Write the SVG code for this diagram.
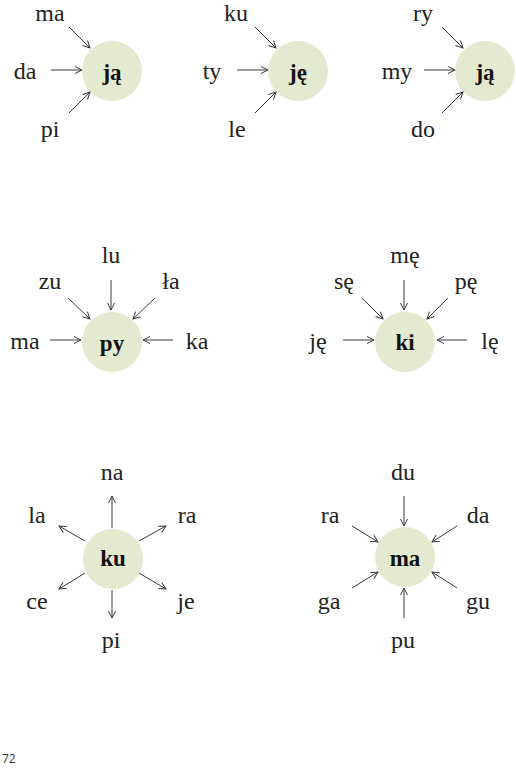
<svg xmlns="http://www.w3.org/2000/svg" width="516" height="768" viewBox="0 0 516 768">
<style>
.hub{fill:#e3eacf}
.c{font-family:"Liberation Serif",serif;font-size:23px;font-weight:bold;fill:#111;text-anchor:middle}
.l{font-family:"Liberation Serif",serif;font-size:24px;fill:#222;text-anchor:middle}
.e{stroke:#3a3a3a;stroke-width:1;fill:none;marker-end:url(#arr)}
.pg{font-family:"Open Sans","DejaVu Sans",sans-serif;font-size:12px;fill:#333}
</style>
<defs>
<marker id="arr" markerUnits="userSpaceOnUse" markerWidth="10" markerHeight="10" refX="7" refY="3.5" orient="auto" overflow="visible">
<path d="M0,0 L7,3.5 L0,7" fill="none" stroke="#3a3a3a" stroke-width="1"/>
</marker>
</defs>

<!-- Diagram 1 -->
<g id="hub1"><circle class="hub" cx="112" cy="71" r="30"/><text class="c" x="112" y="80">ją</text></g>
<g id="d1-ma"><text class="l" x="50" y="21">ma</text></g>
<g id="d1-da"><text class="l" x="25" y="79">da</text></g>
<g id="d1-pi"><text class="l" x="50" y="137">pi</text></g>

<!-- Diagram 2 -->
<g id="hub2"><circle class="hub" cx="298" cy="71" r="30"/><text class="c" x="298" y="80">ję</text></g>
<g id="d2-ku"><text class="l" x="236" y="21">ku</text></g>
<g id="d2-ty"><text class="l" x="212" y="79">ty</text></g>
<g id="d2-le"><text class="l" x="237" y="137">le</text></g>

<!-- Diagram 3 -->
<g id="hub3"><circle class="hub" cx="485" cy="71" r="30"/><text class="c" x="485" y="80">ją</text></g>
<g id="d3-ry"><text class="l" x="423" y="21">ry</text></g>
<g id="d3-my"><text class="l" x="397" y="79">my</text></g>
<g id="d3-do"><text class="l" x="423" y="137">do</text></g>

<!-- Diagram 4 -->
<g id="hub4"><circle class="hub" cx="112" cy="342" r="30"/><text class="c" x="112" y="351">py</text></g>
<g id="d4-lu"><text class="l" x="111" y="263">lu</text></g>
<g id="d4-zu"><text class="l" x="50" y="289">zu</text></g>
<g id="d4-la"><text class="l" x="171" y="289">ła</text></g>
<g id="d4-ma"><text class="l" x="25" y="349">ma</text></g>
<g id="d4-ka"><text class="l" x="197" y="349">ka</text></g>

<!-- Diagram 5 -->
<g id="hub5"><circle class="hub" cx="405" cy="342" r="30"/><text class="c" x="405" y="350">ki</text></g>
<g id="d5-me"><text class="l" x="405" y="263">mę</text></g>
<g id="d5-se"><text class="l" x="344" y="289">sę</text></g>
<g id="d5-pe"><text class="l" x="466" y="289">pę</text></g>
<g id="d5-je"><text class="l" x="318" y="349">ję</text></g>
<g id="d5-le"><text class="l" x="490" y="349">lę</text></g>

<!-- Diagram 6 -->
<g id="hub6"><circle class="hub" cx="113" cy="559" r="30"/><text class="c" x="113" y="566">ku</text></g>
<g id="d6-na"><text class="l" x="112" y="480">na</text></g>
<g id="d6-la"><text class="l" x="37" y="523">la</text></g>
<g id="d6-ra"><text class="l" x="187" y="523">ra</text></g>
<g id="d6-ce"><text class="l" x="37" y="609">ce</text></g>
<g id="d6-je"><text class="l" x="186" y="609">je</text></g>
<g id="d6-pi"><text class="l" x="111" y="648">pi</text></g>

<!-- Diagram 7 -->
<g id="hub7"><circle class="hub" cx="405" cy="557" r="30"/><text class="c" x="405" y="566">ma</text></g>
<g id="d7-du"><text class="l" x="403" y="480">du</text></g>
<g id="d7-ra"><text class="l" x="330" y="523">ra</text></g>
<g id="d7-da"><text class="l" x="478" y="523">da</text></g>
<g id="d7-ga"><text class="l" x="329" y="609">ga</text></g>
<g id="d7-gu"><text class="l" x="478" y="609">gu</text></g>
<g id="d7-pu"><text class="l" x="403" y="648">pu</text></g>

<g id="connectors">
<line class="e" x1="69" y1="27" x2="90" y2="48"/>
<line class="e" x1="51" y1="70" x2="82" y2="70"/>
<line class="e" x1="69" y1="113" x2="90" y2="92"/>

<line class="e" x1="255" y1="27" x2="276" y2="48"/>
<line class="e" x1="237" y1="70" x2="268" y2="70"/>
<line class="e" x1="255" y1="113" x2="276" y2="92"/>

<line class="e" x1="442" y1="27" x2="463" y2="48"/>
<line class="e" x1="424" y1="70" x2="455" y2="70"/>
<line class="e" x1="442" y1="113" x2="463" y2="92"/>

<line class="e" x1="111" y1="280" x2="111" y2="310"/>
<line class="e" x1="68" y1="298" x2="90" y2="319"/>
<line class="e" x1="155" y1="298" x2="133" y2="319"/>
<line class="e" x1="50" y1="340" x2="81" y2="340"/>
<line class="e" x1="173" y1="340" x2="143" y2="340"/>

<line class="e" x1="404" y1="280" x2="404" y2="310"/>
<line class="e" x1="362" y1="298" x2="383" y2="319"/>
<line class="e" x1="448" y1="298" x2="427" y2="319"/>
<line class="e" x1="343" y1="340" x2="374" y2="340"/>
<line class="e" x1="467" y1="340" x2="437" y2="340"/>

<line class="e" x1="112" y1="528" x2="112" y2="496"/>
<line class="e" x1="85" y1="541" x2="59" y2="526"/>
<line class="e" x1="139" y1="541" x2="166" y2="526"/>
<line class="e" x1="85" y1="573" x2="59" y2="589"/>
<line class="e" x1="139" y1="573" x2="166" y2="589"/>
<line class="e" x1="112" y1="590" x2="112" y2="618"/>

<line class="e" x1="404" y1="496" x2="404" y2="526"/>
<line class="e" x1="352" y1="526" x2="378" y2="542"/>
<line class="e" x1="457" y1="526" x2="432" y2="542"/>
<line class="e" x1="352" y1="588" x2="378" y2="572"/>
<line class="e" x1="457" y1="588" x2="432" y2="572"/>
<line class="e" x1="404" y1="618" x2="404" y2="588"/>
</g>

<text class="pg" x="2" y="763">72</text>
</svg>
